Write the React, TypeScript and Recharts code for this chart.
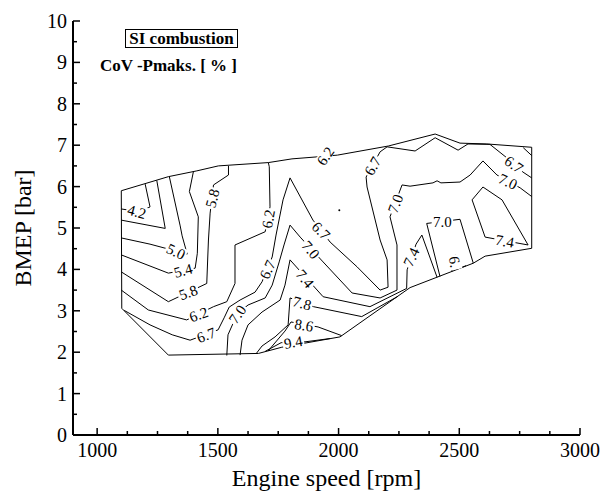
import { ComposedChart, Line, Scatter, XAxis, YAxis } from "recharts"

const FONT = '"Liberation Serif", "Times New Roman", serif'

// every point is [engine speed rpm, BMEP bar]
const region = [
  [1100, 5.9], [1295, 6.24], [1413, 6.38], [1502, 6.5], [1709, 6.58], [1807, 6.67], [1915, 6.72],
  [1995, 6.76], [2206, 6.98], [2400, 7.27], [2503, 7.05], [2614, 7.03], [2800, 6.95], [2800, 4.51],
  [2607, 4.32], [2558, 4.15], [2296, 3.56], [2006, 2.37], [1765, 2.12], [1668, 1.97], [1295, 1.93],
  [1102, 3.06], [1100, 5.9],
]

const cov42 = [[1100, 5.46], [1178, 5.39], [1219, 5.51], [1199, 6.06]]
const cov46 = [[1100, 5.19], [1282, 4.99], [1247, 6.15]]
const cov50 = [[1100, 4.76], [1219, 4.61], [1373, 4.37], [1352, 4.81], [1344, 5.05], [1299, 6.24]]
const cov54 = [[1100, 4.35], [1295, 3.91], [1406, 4.03], [1415, 4.39], [1419, 5.27], [1382, 5.88], [1399, 6.37]]
const cov58 = [[1100, 3.94], [1295, 3.22], [1454, 3.66], [1461, 4.71], [1468, 5.36], [1482, 6.04], [1544, 6.28], [1544, 6.5]]
const cov62 = [
  [1100, 3.5], [1212, 3.02], [1371, 2.78], [1482, 3.1], [1537, 3.22], [1571, 3.66], [1571, 4.59],
  [1696, 4.91], [1716, 5.51], [1713, 6.48], [1709, 6.58],
]
const cov62Corner = [[2765, 6.94], [2800, 6.75]]
const cov67 = [
  [1112, 3.01], [1219, 2.66], [1311, 2.42], [1385, 2.29], [1501, 2.54], [1526, 2.83], [1547, 3.09],
  [1592, 3.26], [1654, 3.45], [1683, 3.7], [1725, 4.3], [1741, 4.83], [1770, 5.68], [1799, 6.21],
  [1894, 5.19], [1965, 4.66], [2077, 4.06], [2172, 3.5], [2205, 3.57], [2201, 4.23], [2172, 4.71],
  [2118, 5.99], [2114, 6.23], [2172, 6.84], [2201, 6.96], [2317, 6.86], [2400, 7.18], [2495, 6.88],
  [2536, 7.03], [2627, 7.02], [2698, 6.69], [2764, 6.35], [2800, 6.21],
]
const cov67Pocket = [[2470, 3.95], [2462, 4.3], [2487, 4.35], [2503, 4.03], [2528, 4.09]]
const cov70 = [
  [1537, 1.92], [1542, 2.42], [1580, 2.92], [1625, 3.14], [1696, 3.31], [1725, 3.62], [1754, 4.18],
  [1774, 4.59], [1799, 5.07], [1841, 4.78], [1936, 4.18], [2056, 3.43], [2172, 3.31], [2242, 3.5],
  [2242, 4.59], [2213, 5.27], [2263, 6.04], [2296, 6.01], [2391, 6.09], [2408, 6.14], [2424, 6.09],
  [2503, 6.11], [2545, 6.28], [2598, 6.62], [2656, 6.28], [2752, 5.97], [2800, 5.76],
]
const cov70Pocket = [[2420, 3.83], [2365, 5.11], [2503, 5.21], [2558, 4.15]]
const cov74 = [
  [1592, 1.93], [1600, 2.29], [1625, 2.66], [1683, 2.97], [1758, 3.26], [1778, 3.62], [1799, 4.23],
  [1936, 3.34], [2130, 3.1], [2282, 3.54], [2284, 3.99], [2321, 4.61], [2345, 4.83], [2408, 3.81],
]
const cov74Loop = [[2785, 4.59], [2607, 4.78], [2553, 5.68], [2598, 5.99], [2677, 5.68], [2785, 4.59]]
const cov78 = [[1658, 1.96], [1683, 2.15], [1737, 2.37], [1791, 2.66], [1799, 3.31], [1896, 3.1], [2096, 2.86], [2246, 3.35]]
const cov86 = [[1708, 2.03], [1778, 2.51], [1803, 2.73], [1915, 2.61], [2013, 2.4]]
const cov94 = [[1696, 2.02], [1762, 2.23], [1861, 2.25], [1965, 2.33]]
const peakDot = [[2003, 5.43]]

// [rpm, bar, text, rotation]
const contourLabels: [number, number, string, number][] = [
  [1165, 5.4, "4.2", 15],
  [1327, 4.44, "5.0", 25],
  [1356, 3.98, "5.4", -15],
  [1377, 3.45, "5.8", -20],
  [1476, 5.72, "5.8", -75],
  [1420, 2.92, "6.2", -20],
  [1708, 5.22, "6.2", -80],
  [1944, 6.74, "6.2", -55],
  [1451, 2.42, "6.7", -20],
  [1704, 4.0, "6.7", -65],
  [1928, 4.94, "6.7", 45],
  [2140, 6.5, "6.7", -60],
  [2727, 6.54, "6.7", 35],
  [1580, 2.92, "7.0", -55],
  [1886, 4.48, "7.0", 50],
  [2234, 5.59, "7.0", -70],
  [2430, 5.15, "7.0", 0],
  [2702, 6.13, "7.0", 25],
  [1862, 3.78, "7.4", 50],
  [2300, 4.3, "7.4", -65],
  [2689, 4.69, "7.4", 10],
  [1849, 3.19, "7.8", 15],
  [1857, 2.66, "8.6", 10],
  [1812, 2.25, "9.4", -10],
  [2483, 4.18, "6.", 80],
]

const xTicks = [1000, 1125, 1250, 1375, 1500, 1625, 1750, 1875, 2000, 2125, 2250, 2375, 2500, 2625, 2750, 2875, 3000]
const yTicks = [0, 0.5, 1, 1.5, 2, 2.5, 3, 3.5, 4, 4.5, 5, 5.5, 6, 6.5, 7, 7.5, 8, 8.5, 9, 9.5, 10]

const lines = [
  region, cov42, cov46, cov50, cov54, cov58, cov62, cov62Corner, cov67, cov67Pocket,
  cov70, cov70Pocket, cov74, cov74Loop, cov78, cov86, cov94,
]

const XTick = ({ x, y, payload }: any) => {
  const major = payload.value % 500 === 0
  return (
    <g>
      <line x1={x} y1={y} x2={x} y2={y - (major ? 7 : 4)} stroke="#000" strokeWidth={1.5} />
      {major && (
        <text x={x} y={y + 22} textAnchor="middle" fontSize={20} fontFamily={FONT} fill="#000">
          {payload.value}
        </text>
      )}
    </g>
  )
}

const YTick = ({ x, y, payload }: any) => {
  const major = payload.value % 1 === 0
  return (
    <g>
      <line x1={x} y1={y} x2={x + (major ? 7 : 4)} y2={y} stroke="#000" strokeWidth={1.5} />
      {major && (
        <text x={x - 6} y={y + 7} textAnchor="end" fontSize={20} fontFamily={FONT} fill="#000">
          {payload.value}
        </text>
      )}
    </g>
  )
}

const ContourLabel = (props: any) => {
  const { cx, cy, payload } = props
  const w = payload.t.length * 6.5 + 2
  return (
    <g transform={`translate(${cx},${cy}) rotate(${payload.a})`}>
      <rect x={-w / 2} y={-6} width={w} height={12} fill="#fff" />
      <text x={0} y={5.5} textAnchor="middle" fontSize={15} fontFamily={FONT} fill="#000">
        {payload.t}
      </text>
    </g>
  )
}

const Dot = (props: any) => <circle cx={props.cx} cy={props.cy} r={1} fill="#000" />

export default function App() {
  const labelData = contourLabels.map(([x, y, t, a]) => ({ x, y, t, a }))
  return (
    <div style={{ position: "relative", width: 600, height: 485, fontFamily: FONT }}>
      <ComposedChart width={600} height={485} margin={{ top: 13, right: 28, left: 0, bottom: 0 }}>
        <XAxis
          dataKey="x"
          type="number"
          domain={[900, 3000]}
          allowDataOverflow
          ticks={xTicks}
          interval={0}
          tickSize={0}
          tickMargin={0}
          tick={<XTick />}
          axisLine={{ stroke: "#000", strokeWidth: 2 }}
          height={58}
          label={(p: any) => (
            <text
              x={p.viewBox.x + p.viewBox.width / 2}
              y={p.viewBox.y + 51}
              textAnchor="middle"
              fontSize={24}
              fontFamily={FONT}
              fill="#000"
            >
              Engine speed [rpm]
            </text>
          )}
        />
        <YAxis
          dataKey="y"
          type="number"
          domain={[0, 10]}
          allowDataOverflow
          ticks={yTicks}
          interval={0}
          tickSize={0}
          tickMargin={0}
          tick={<YTick />}
          axisLine={{ stroke: "#000", strokeWidth: 2 }}
          width={65}
          label={(p: any) => {
            const cx = p.viewBox.x + 23
            const cy = p.viewBox.y + p.viewBox.height / 2
            return (
              <text
                x={cx}
                y={cy}
                transform={`rotate(-90 ${cx} ${cy})`}
                textAnchor="middle"
                fontSize={24}
                fontFamily={FONT}
                fill="#000"
              >
                BMEP [bar]
              </text>
            )
          }}
        />
        {lines.map((pts, i) => (
          <Line
            key={`c-${i}`}
            data={pts.map(([x, y]) => ({ x, y }))}
            dataKey="y"
            type="linear"
            stroke="#000"
            strokeWidth={1}
            dot={false}
            activeDot={false}
            isAnimationActive={false}
          />
        ))}
        <Scatter data={peakDot.map(([x, y]) => ({ x, y }))} shape={<Dot />} isAnimationActive={false} />
        <Scatter data={labelData} shape={<ContourLabel />} isAnimationActive={false} />
      </ComposedChart>
      <div
        style={{
          position: "absolute",
          left: 117,
          top: 21,
          width: 111,
          height: 17,
          border: "1px solid #000",
          fontWeight: "bold",
          fontSize: 17,
          lineHeight: "17px",
          textAlign: "center",
          whiteSpace: "nowrap",
        }}
      >
        SI combustion
      </div>
      <div
        style={{
          position: "absolute",
          right: 371,
          top: 50,
          fontWeight: "bold",
          fontSize: 17,
          lineHeight: "16px",
          whiteSpace: "pre",
        }}
      >
        CoV -Pmaks. [ % ]
      </div>
    </div>
  )
}
